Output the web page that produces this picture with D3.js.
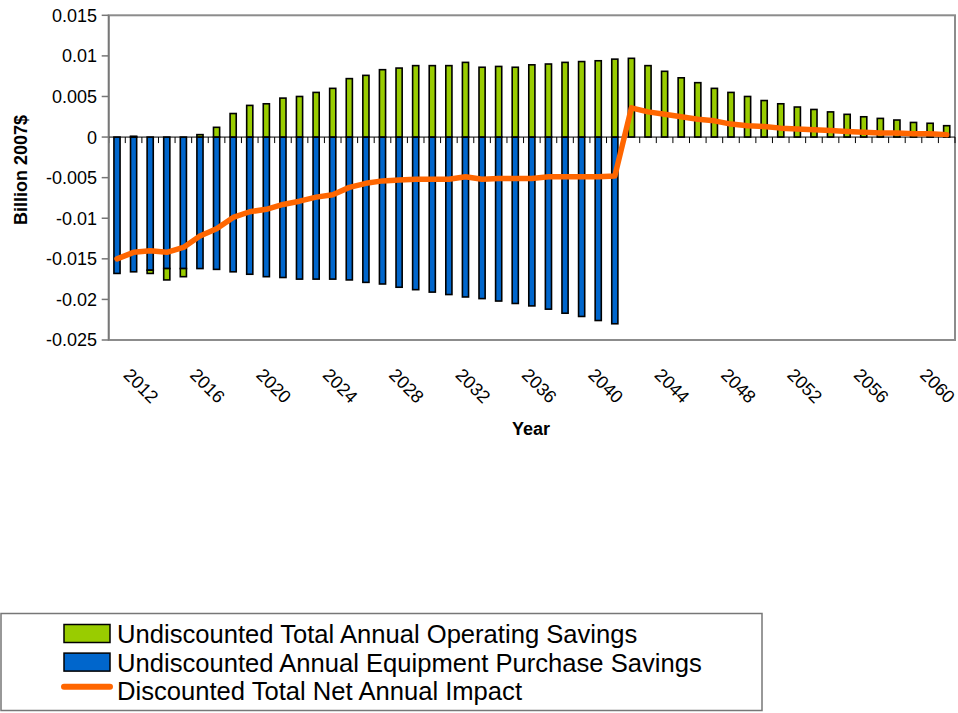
<!DOCTYPE html>
<html>
<head>
<meta charset="utf-8">
<script src="https://cdn.jsdelivr.net/npm/d3@7/dist/d3.min.js"></script>
<style>
  html, body { margin: 0; padding: 0; background: #fff; }
  svg { display: block; font-family: "Liberation Sans", Arial, sans-serif; }
</style>
</head>
<body>
<svg id="chart" width="958" height="713"></svg>
<script>
const years = d3.range(2011, 2062);
const operatingSavings = [
  0, 0.0001, -0.0004, -0.0014, -0.0010, 0.0003, 0.0012, 0.0029, 0.0039, 0.0041,
  0.0048, 0.0050, 0.0055, 0.0060, 0.0072, 0.0076, 0.0083, 0.0085, 0.0088, 0.0088,
  0.0088, 0.0092, 0.0086, 0.0087, 0.0086, 0.0089, 0.0090, 0.0092, 0.0093, 0.0094,
  0.0096, 0.0097, 0.0088, 0.0081, 0.0073, 0.0067, 0.0060, 0.0055, 0.0050, 0.0045,
  0.0041, 0.0037, 0.0034, 0.0031, 0.0028, 0.0025, 0.0023, 0.0021, 0.0018, 0.0017, 0.0014
];
const equipmentSavings = [
  -0.0168, -0.0166, -0.0164, -0.0162, -0.0162, -0.0162, -0.0163, -0.0166, -0.0169, -0.0172,
  -0.0173, -0.0175, -0.0175, -0.0175, -0.0176, -0.0179, -0.0181, -0.0185, -0.0188, -0.0191,
  -0.0194, -0.0197, -0.0199, -0.0202, -0.0205, -0.0208, -0.0212, -0.0217, -0.0221, -0.0226,
  -0.0230, 0, 0, 0, 0, 0, 0, 0, 0, 0,
  0, 0, 0, 0, 0, 0, 0, 0, 0, 0, 0
];
const netImpact = [
  -0.0150, -0.0142, -0.0140, -0.0142, -0.0136, -0.0122, -0.0113, -0.0099, -0.0092, -0.0089,
  -0.0083, -0.0079, -0.0074, -0.0071, -0.0062, -0.0057, -0.0054, -0.0053, -0.0052, -0.0052,
  -0.0052, -0.0049, -0.0052, -0.0051, -0.0051, -0.0051, -0.0049, -0.0049, -0.0049, -0.0049,
  -0.0048, 0.0036, 0.0031, 0.0028, 0.0025, 0.0022, 0.0020, 0.0016, 0.0014, 0.0013,
  0.0011, 0.0010, 0.0009, 0.0008, 0.0007, 0.0006, 0.0005, 0.0005, 0.0004, 0.0004, 0.0003
];
const yTicks = [0.015, 0.01, 0.005, 0, -0.005, -0.01, -0.015, -0.02, -0.025];
const yTickLabels = ["0.015", "0.01", "0.005", "0", "-0.005", "-0.01", "-0.015", "-0.02", "-0.025"];
const xLabelYears = d3.range(2012, 2061, 4);
const seriesNames = [
  "Undiscounted Total Annual Operating Savings",
  "Undiscounted Annual Equipment Purchase Savings",
  "Discounted Total Net Annual Impact"
];
const colors = { oper: "#99cc00", equip: "#0066cc", net: "#ff6600" };

(function () {
const svg = d3.select("#chart");
const pL = 108.7, pR = 955, pT = 15.3, pB = 340;

const x = d3.scaleBand().domain(years).range([pL, pR]).paddingInner(0.63).paddingOuter(0.315);
const y = d3.scaleLinear().domain([-0.025, 0.015]).range([pB, pT]);
const step = x.step();

const rows = years.map((yr, i) => ({ year: yr, equip: equipmentSavings[i], oper: operatingSavings[i] }));
const stacked = d3.stack().keys(["equip", "oper"]).offset(d3.stackOffsetDiverging)(rows);

// plot frame
svg.append("rect").attr("x", pL).attr("y", pT).attr("width", pR - pL).attr("height", pB - pT)
  .attr("fill", "none").attr("stroke", "#8c8c8c").attr("stroke-width", 2);

// bars
const g = svg.append("g");
stacked.forEach(layer => {
  g.selectAll(null).data(layer).enter().append("rect")
    .attr("x", d => x(d.data.year))
    .attr("width", x.bandwidth())
    .attr("y", d => y(Math.max(d[0], d[1])))
    .attr("height", d => Math.abs(y(d[0]) - y(d[1])))
    .attr("fill", colors[layer.key])
    .attr("stroke", d => Math.abs(y(d[0]) - y(d[1])) > 0.01 ? "#000" : "none")
    .attr("stroke-width", 1.6);
});

// zero axis line and category ticks
svg.append("line").attr("x1", pL).attr("x2", pR).attr("y1", y(0)).attr("y2", y(0))
  .attr("stroke", "#000").attr("stroke-width", 1);
svg.append("g").selectAll("line").data(years.concat([2062])).enter().append("line")
  .attr("x1", d => (d === 2062 ? pR : x(d) + x.bandwidth() / 2 - step / 2))
  .attr("x2", d => (d === 2062 ? pR : x(d) + x.bandwidth() / 2 - step / 2))
  .attr("y1", y(0)).attr("y2", y(0) + 6)
  .attr("stroke", "#000").attr("stroke-width", 1);

// left axis
svg.append("line").attr("x1", pL).attr("x2", pL).attr("y1", pT).attr("y2", pB)
  .attr("stroke", "#777").attr("stroke-width", 1.5);
const yt = svg.append("g");
yt.selectAll("line").data(yTicks).enter().append("line")
  .attr("x1", pL - 7).attr("x2", pL).attr("y1", d => y(d)).attr("y2", d => y(d))
  .attr("stroke", "#777").attr("stroke-width", 1.5);
yt.selectAll("text").data(yTicks).enter().append("text")
  .attr("x", 97).attr("y", d => y(d)).attr("dy", "0.36em")
  .attr("text-anchor", "end").attr("font-size", 18).attr("fill", "#000")
  .text((d, i) => yTickLabels[i]);

// line
const line = d3.line().x((d, i) => x(years[i]) + x.bandwidth() / 2).y(d => y(d));
svg.append("path").datum(netImpact).attr("d", line)
  .attr("fill", "none").attr("stroke", colors.net).attr("stroke-width", 5.5)
  .attr("stroke-linejoin", "round").attr("stroke-linecap", "round");

// x labels
svg.append("g").selectAll("text").data(xLabelYears).enter().append("text")
  .attr("transform", d => `translate(${x(d) + x.bandwidth() / 2 - 11},376) rotate(45)`)
  .attr("font-size", 18).attr("fill", "#000").text(d => d);

// axis titles
svg.append("text").attr("x", 531).attr("y", 435).attr("text-anchor", "middle")
  .attr("font-size", 18).attr("font-weight", "bold").text("Year");
svg.append("text").attr("transform", "translate(27,170) rotate(-90)").attr("text-anchor", "middle")
  .attr("font-size", 18).attr("font-weight", "bold").text("Billion 2007$");

// legend
const lg = svg.append("g");
lg.append("rect").attr("x", 1).attr("y", 613.5).attr("width", 761).attr("height", 97)
  .attr("fill", "#fff").attr("stroke", "#777").attr("stroke-width", 1.5);
const legendRows = [
  { name: seriesNames[0], type: "rect", color: colors.oper },
  { name: seriesNames[1], type: "rect", color: colors.equip },
  { name: seriesNames[2], type: "line", color: colors.net }
];
legendRows.forEach((r, i) => {
  const cy = 633.5 + i * 28.6;
  if (r.type === "rect") {
    lg.append("rect").attr("x", 64).attr("y", cy - 9).attr("width", 46).attr("height", 18)
      .attr("fill", r.color).attr("stroke", "#000").attr("stroke-width", 1.5);
  } else {
    lg.append("line").attr("x1", 64).attr("x2", 110).attr("y1", cy - 4).attr("y2", cy - 4)
      .attr("stroke", r.color).attr("stroke-width", 6).attr("stroke-linecap", "round");
  }
  lg.append("text").attr("x", 117).attr("y", cy + 9.5).attr("font-size", 25.6).attr("fill", "#000").text(r.name);
});
})();
</script>
</body>
</html>
